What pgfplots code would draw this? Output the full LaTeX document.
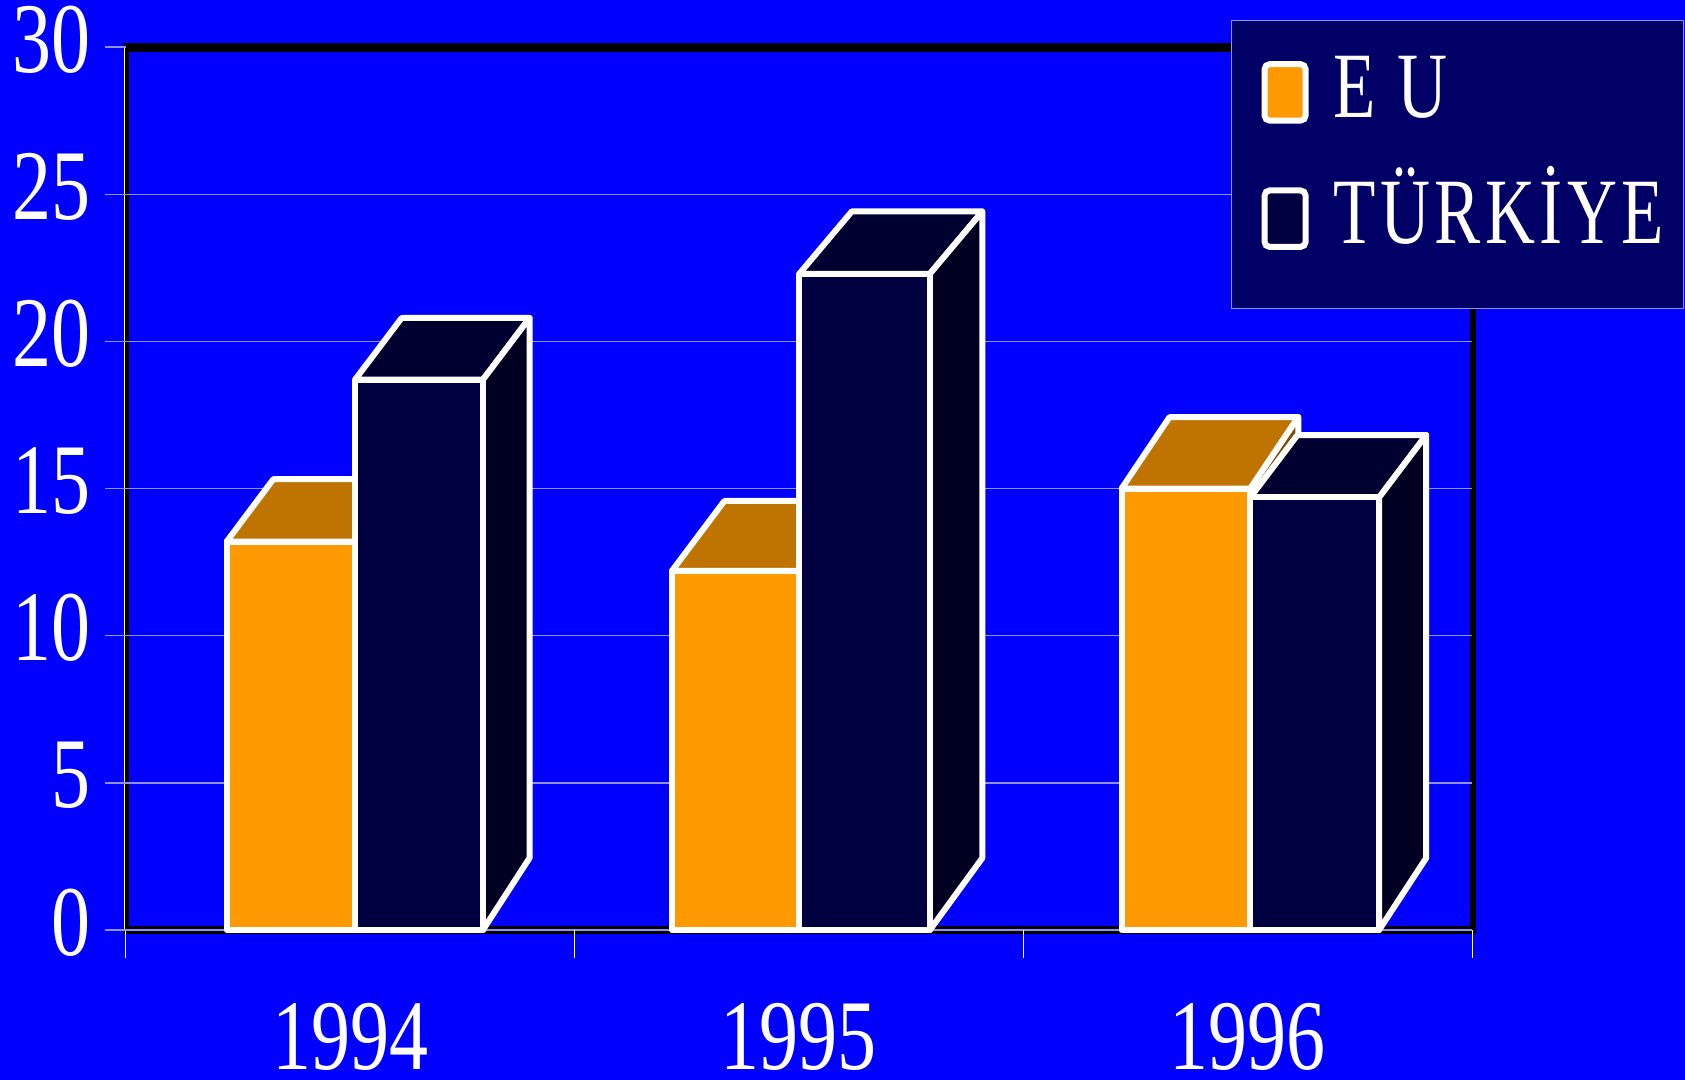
\documentclass[border=0pt]{standalone}
\usepackage{fontspec}
\usepackage{pgfplots}
\pgfplotsset{compat=1.18}

\newfontfamily\tickfont[FakeStretch=0.78]{Liberation Serif}
\newfontfamily\legfont[FakeStretch=0.74,LetterSpace=4.7]{Liberation Serif}

\definecolor{bgblue}{HTML}{0000FF}
\definecolor{euorange}{HTML}{FF9900}
\definecolor{eutop}{HTML}{BF7300}
\definecolor{euside}{HTML}{7F4C00}
\definecolor{trfront}{HTML}{000040}
\definecolor{trtop}{HTML}{000030}
\definecolor{trside}{HTML}{000020}
\definecolor{legnavy}{HTML}{000066}
\definecolor{gridc}{HTML}{9090FF}

% depth of the side faces at the floor (value units)
\def\dyBot{2.45}
% #1 left, #2 right, #3 value, #4 depth dx, #5 depth dy at top, #6 front, #7 top, #8 side
\newcommand{\cube}[8]{%
  \pgfmathsetmacro\cLb{#1+#4}%
  \pgfmathsetmacro\cRb{#2+#4}%
  \pgfmathsetmacro\cHb{#3+#5}%
  \addplot[face, fill=#7] coordinates {(#1,#3) (#2,#3) (\cRb,\cHb) (\cLb,\cHb)} -- cycle;
  \addplot[face, fill=#8] coordinates {(#2,0) (\cRb,\dyBot) (\cRb,\cHb) (#2,#3)} -- cycle;
  \addplot[face, fill=#6] coordinates {(#1,0) (#2,0) (#2,#3) (#1,#3)} -- cycle;
}

\begin{document}
\begin{tikzpicture}
\path[use as bounding box] (0,0) rectangle (842.5pt,540pt);
\fill[bgblue] (0,0) rectangle (842.5pt,540pt);
% back wall frame
\draw[black, line width=4.2pt] (61.5pt,516.3pt) -- (738pt,516.3pt);
\draw[black, line width=3pt] (736.5pt,518.4pt) -- (736.5pt,72.8pt);
\draw[black, line width=4.4pt] (61.5pt,75pt) -- (738pt,75pt);
\draw[black, line width=2.2pt] (63.4pt,518.4pt) -- (63.4pt,72.8pt);
\draw[white, line width=0.7pt] (62.1pt,516pt) -- (62.1pt,75pt);

\begin{axis}[
  at={(62.85pt,75pt)}, anchor=south west,
  scale only axis, width=673.15pt, height=441.4pt,
  xmin=-0.5, xmax=2.5, ymin=0, ymax=30,
  clip=false,
  axis line style={draw=none},
  tick pos=left,
  tick align=outside,
  ytick={0,5,...,25},
  extra y ticks={30},
  extra y tick style={grid=none},
  ymajorgrids,
  grid style={gridc, line width=0.75pt},
  major tick length=10.35pt,
  ytick style={gridc, line width=0.75pt},
  xtick={0,1,2},
  xticklabels={1994,1995,1996},
  major x tick style={draw=none},
  minor xtick={-0.5,0.5,1.5,2.5},
  minor x tick style={draw=white, line width=0.5pt},
  minor tick length=14pt,
  tick label style={font=\tickfont\fontsize{50}{50}\selectfont, text=white},
  /pgf/number format/assume math mode=true,
  yticklabel style={anchor=east, inner sep=0pt, xshift=-7pt, yshift=3.75pt},
  xticklabel style={anchor=base, inner sep=0pt, yshift=-59.5pt},
  face/.style={forget plot, draw=white, line width=3pt, line join=round},
  legend cell align=left,
  legend style={
    at={(0.8207,1.0312)}, anchor=north west,
    fill=legnavy, draw=gridc, line width=0.6pt,
    inner xsep=15.2pt, inner ysep=9pt,
    column sep=12.5pt, row sep=0pt,
    font=\legfont\fontsize{46.8}{50}\selectfont, text=white,
    nodes={inner sep=0pt, text height=39.6pt, text depth=23.55pt},
  },
]
\addlegendimage{legend image code/.code={\draw[draw=white, line width=3pt, rounded corners=2.5pt, fill=euorange] (1.5pt,-9.6pt) rectangle (22pt,18.6pt);}}
\addlegendentry{\makebox[159.7pt][l]{E U}}
\addlegendimage{legend image code/.code={\draw[draw=white, line width=3pt, rounded corners=2.5pt, fill=trfront] (1.5pt,-9.6pt) rectangle (22pt,18.6pt);}}
\addlegendentry{\makebox[159.7pt][l]{TÜRKİYE}}

% 1994: EU 13.2, TÜRKİYE 18.7
\cube{-0.275}{0.011}{13.2}{0.104}{2.12}{euorange}{eutop}{euside}
\cube{0.011}{0.296}{18.7}{0.104}{2.10}{trfront}{trtop}{trside}
% 1995: EU 12.2, TÜRKİYE 22.3
\cube{0.717}{1.001}{12.2}{0.117}{2.38}{euorange}{eutop}{euside}
\cube{1.001}{1.292}{22.3}{0.117}{2.12}{trfront}{trtop}{trside}
% 1996: EU 15.0, TÜRKİYE 14.7
\cube{1.719}{2.006}{15.0}{0.107}{2.43}{euorange}{eutop}{euside}
\cube{2.006}{2.293}{14.7}{0.105}{2.12}{trfront}{trtop}{trside}
\end{axis}
\end{tikzpicture}
\end{document}
